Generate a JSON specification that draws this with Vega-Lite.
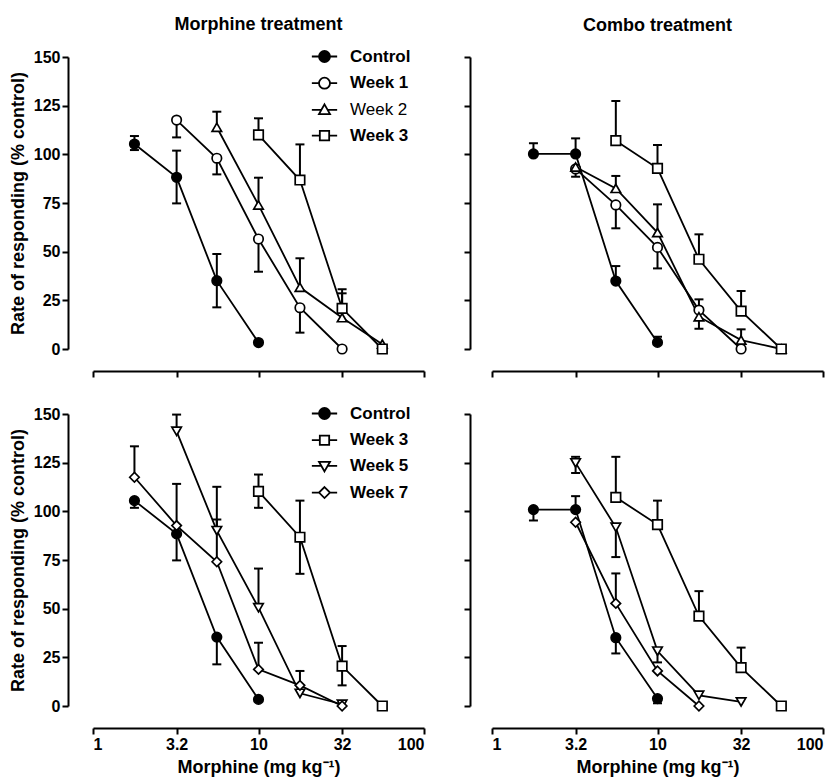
{
  "$schema": "https://vega.github.io/schema/vega-lite/v6.json",
  "padding": {"left": 9, "top": 16, "right": 5, "bottom": 2},
  "config": {
    "font": "Liberation Sans",
    "view": {"stroke": null},
    "axis": {
      "domainColor": "black", "domainWidth": 2, "tickColor": "black", "tickWidth": 2, "tickSize": 6,
      "labelColor": "black", "labelFont": "Liberation Sans", "labelFontSize": 16, "labelFontWeight": "bold",
      "titleFont": "Liberation Sans", "titleFontSize": 18, "titleFontWeight": "bold", "titleColor": "black",
      "grid": false, "labelPadding": 2
    },
    "legend": {"symbolOpacity": 1},
    "title": {"font": "Liberation Sans", "fontSize": 18, "fontWeight": "bold", "color": "black", "anchor": "middle", "frame": "group"}
  },
  "datasets": {
    "pts": [
      {"panel": "TL", "series": "Control", "dose": 1.78, "resp": 105.3},
      {"panel": "TL", "series": "Control", "dose": 3.2, "resp": 88.2},
      {"panel": "TL", "series": "Control", "dose": 5.6, "resp": 35.1},
      {"panel": "TL", "series": "Control", "dose": 10, "resp": 3.3},
      {"panel": "TL", "series": "Week 1", "dose": 3.2, "resp": 117.6},
      {"panel": "TL", "series": "Week 1", "dose": 5.6, "resp": 98},
      {"panel": "TL", "series": "Week 1", "dose": 10, "resp": 56.5},
      {"panel": "TL", "series": "Week 1", "dose": 17.8, "resp": 21.2},
      {"panel": "TL", "series": "Week 1", "dose": 32, "resp": 0},
      {"panel": "TL", "series": "Week 2", "dose": 5.6, "resp": 113.9},
      {"panel": "TL", "series": "Week 2", "dose": 10, "resp": 74},
      {"panel": "TL", "series": "Week 2", "dose": 17.8, "resp": 31.7},
      {"panel": "TL", "series": "Week 2", "dose": 32, "resp": 16.1},
      {"panel": "TL", "series": "Week 2", "dose": 56, "resp": 2.5},
      {"panel": "TL", "series": "Week 3", "dose": 10, "resp": 110},
      {"panel": "TL", "series": "Week 3", "dose": 17.8, "resp": 86.8},
      {"panel": "TL", "series": "Week 3", "dose": 32, "resp": 20.9},
      {"panel": "TL", "series": "Week 3", "dose": 56, "resp": 0},
      {"panel": "TR", "series": "Control", "dose": 1.78, "resp": 100.2},
      {"panel": "TR", "series": "Control", "dose": 3.2, "resp": 100.2},
      {"panel": "TR", "series": "Control", "dose": 5.6, "resp": 34.9},
      {"panel": "TR", "series": "Control", "dose": 10, "resp": 3.4},
      {"panel": "TR", "series": "Week 1", "dose": 3.2, "resp": 92.5},
      {"panel": "TR", "series": "Week 1", "dose": 5.6, "resp": 74},
      {"panel": "TR", "series": "Week 1", "dose": 10, "resp": 52.2},
      {"panel": "TR", "series": "Week 1", "dose": 17.8, "resp": 20},
      {"panel": "TR", "series": "Week 1", "dose": 32, "resp": 0},
      {"panel": "TR", "series": "Week 2", "dose": 3.2, "resp": 93.5},
      {"panel": "TR", "series": "Week 2", "dose": 5.6, "resp": 82.5},
      {"panel": "TR", "series": "Week 2", "dose": 10, "resp": 59.8},
      {"panel": "TR", "series": "Week 2", "dose": 17.8, "resp": 16.6},
      {"panel": "TR", "series": "Week 2", "dose": 32, "resp": 4.6},
      {"panel": "TR", "series": "Week 2", "dose": 56, "resp": 0},
      {"panel": "TR", "series": "Week 3", "dose": 5.6, "resp": 107},
      {"panel": "TR", "series": "Week 3", "dose": 10, "resp": 92.8},
      {"panel": "TR", "series": "Week 3", "dose": 17.8, "resp": 46.1},
      {"panel": "TR", "series": "Week 3", "dose": 32, "resp": 19.5},
      {"panel": "TR", "series": "Week 3", "dose": 56, "resp": 0},
      {"panel": "BL", "series": "Control", "dose": 1.78, "resp": 105.5},
      {"panel": "BL", "series": "Control", "dose": 3.2, "resp": 88.4},
      {"panel": "BL", "series": "Control", "dose": 5.6, "resp": 35.4},
      {"panel": "BL", "series": "Control", "dose": 10, "resp": 3.4},
      {"panel": "BL", "series": "Week 3", "dose": 10, "resp": 110.3},
      {"panel": "BL", "series": "Week 3", "dose": 17.8, "resp": 86.7},
      {"panel": "BL", "series": "Week 3", "dose": 32, "resp": 20.5},
      {"panel": "BL", "series": "Week 3", "dose": 56, "resp": 0},
      {"panel": "BL", "series": "Week 5", "dose": 3.2, "resp": 141.1},
      {"panel": "BL", "series": "Week 5", "dose": 5.6, "resp": 90.1},
      {"panel": "BL", "series": "Week 5", "dose": 10, "resp": 50.5},
      {"panel": "BL", "series": "Week 5", "dose": 17.8, "resp": 6.5},
      {"panel": "BL", "series": "Week 5", "dose": 32, "resp": 0.9},
      {"panel": "BL", "series": "Week 7", "dose": 1.78, "resp": 117.5},
      {"panel": "BL", "series": "Week 7", "dose": 3.2, "resp": 92.7},
      {"panel": "BL", "series": "Week 7", "dose": 5.6, "resp": 74.1},
      {"panel": "BL", "series": "Week 7", "dose": 10, "resp": 18.8},
      {"panel": "BL", "series": "Week 7", "dose": 17.8, "resp": 10.6},
      {"panel": "BL", "series": "Week 7", "dose": 32, "resp": 0},
      {"panel": "BR", "series": "Control", "dose": 1.78, "resp": 100.9},
      {"panel": "BR", "series": "Control", "dose": 3.2, "resp": 100.9},
      {"panel": "BR", "series": "Control", "dose": 5.6, "resp": 35.1},
      {"panel": "BR", "series": "Control", "dose": 10, "resp": 3.8},
      {"panel": "BR", "series": "Week 3", "dose": 5.6, "resp": 107.2},
      {"panel": "BR", "series": "Week 3", "dose": 10, "resp": 93.2},
      {"panel": "BR", "series": "Week 3", "dose": 17.8, "resp": 46.2},
      {"panel": "BR", "series": "Week 3", "dose": 32, "resp": 19.7},
      {"panel": "BR", "series": "Week 3", "dose": 56, "resp": 0},
      {"panel": "BR", "series": "Week 5", "dose": 3.2, "resp": 124.9},
      {"panel": "BR", "series": "Week 5", "dose": 5.6, "resp": 91.8},
      {"panel": "BR", "series": "Week 5", "dose": 10, "resp": 28.2},
      {"panel": "BR", "series": "Week 5", "dose": 17.8, "resp": 5.5},
      {"panel": "BR", "series": "Week 5", "dose": 32, "resp": 2.1},
      {"panel": "BR", "series": "Week 7", "dose": 3.2, "resp": 94.4},
      {"panel": "BR", "series": "Week 7", "dose": 5.6, "resp": 52.7},
      {"panel": "BR", "series": "Week 7", "dose": 10, "resp": 18},
      {"panel": "BR", "series": "Week 7", "dose": 17.8, "resp": 0}
    ],
    "err": [
      {"panel": "TL", "series": "Control", "dose": 1.78, "resp": 105.3, "end": 109.4},
      {"panel": "TL", "series": "Control", "dose": 1.78, "resp": 105.3, "end": 102.2},
      {"panel": "TL", "series": "Control", "dose": 3.2, "resp": 88.2, "end": 101.9},
      {"panel": "TL", "series": "Control", "dose": 3.2, "resp": 88.2, "end": 74.8},
      {"panel": "TL", "series": "Control", "dose": 5.6, "resp": 35.1, "end": 48.8},
      {"panel": "TL", "series": "Control", "dose": 5.6, "resp": 35.1, "end": 21.4},
      {"panel": "TL", "series": "Week 1", "dose": 3.2, "resp": 117.6, "end": 108.7},
      {"panel": "TL", "series": "Week 1", "dose": 5.6, "resp": 98, "end": 89.7},
      {"panel": "TL", "series": "Week 1", "dose": 10, "resp": 56.5, "end": 39.7},
      {"panel": "TL", "series": "Week 1", "dose": 17.8, "resp": 21.2, "end": 8.4},
      {"panel": "TL", "series": "Week 2", "dose": 5.6, "resp": 113.9, "end": 121.9},
      {"panel": "TL", "series": "Week 2", "dose": 10, "resp": 74, "end": 88},
      {"panel": "TL", "series": "Week 2", "dose": 17.8, "resp": 31.7, "end": 46.6},
      {"panel": "TL", "series": "Week 2", "dose": 32, "resp": 16.1, "end": 28.6},
      {"panel": "TL", "series": "Week 3", "dose": 10, "resp": 110, "end": 118.5},
      {"panel": "TL", "series": "Week 3", "dose": 17.8, "resp": 86.8, "end": 105.1},
      {"panel": "TL", "series": "Week 3", "dose": 32, "resp": 20.9, "end": 30.7},
      {"panel": "TR", "series": "Control", "dose": 1.78, "resp": 100.2, "end": 105.7},
      {"panel": "TR", "series": "Control", "dose": 3.2, "resp": 100.2, "end": 108.2},
      {"panel": "TR", "series": "Week 1", "dose": 3.2, "resp": 92.5, "end": 88.5},
      {"panel": "TR", "series": "Week 3", "dose": 5.6, "resp": 107, "end": 127.4},
      {"panel": "TR", "series": "Week 2", "dose": 5.6, "resp": 82.5, "end": 88.9},
      {"panel": "TR", "series": "Week 1", "dose": 5.6, "resp": 74, "end": 62},
      {"panel": "TR", "series": "Control", "dose": 5.6, "resp": 34.9, "end": 42.6},
      {"panel": "TR", "series": "Week 3", "dose": 10, "resp": 92.8, "end": 104.8},
      {"panel": "TR", "series": "Week 2", "dose": 10, "resp": 59.8, "end": 74.3},
      {"panel": "TR", "series": "Week 1", "dose": 10, "resp": 52.2, "end": 41.4},
      {"panel": "TR", "series": "Control", "dose": 10, "resp": 3.4, "end": 6.3},
      {"panel": "TR", "series": "Week 3", "dose": 17.8, "resp": 46.1, "end": 58.9},
      {"panel": "TR", "series": "Week 1", "dose": 17.8, "resp": 20, "end": 25.5},
      {"panel": "TR", "series": "Week 2", "dose": 17.8, "resp": 16.6, "end": 10.4},
      {"panel": "TR", "series": "Week 3", "dose": 32, "resp": 19.5, "end": 29.8},
      {"panel": "TR", "series": "Week 2", "dose": 32, "resp": 4.6, "end": 10.1},
      {"panel": "BL", "series": "Control", "dose": 1.78, "resp": 105.5, "end": 101.8},
      {"panel": "BL", "series": "Control", "dose": 3.2, "resp": 88.4, "end": 74.8},
      {"panel": "BL", "series": "Control", "dose": 5.6, "resp": 35.4, "end": 21.4},
      {"panel": "BL", "series": "Week 7", "dose": 1.78, "resp": 117.5, "end": 133.4},
      {"panel": "BL", "series": "Week 5", "dose": 3.2, "resp": 141.1, "end": 149.7},
      {"panel": "BL", "series": "Week 7", "dose": 3.2, "resp": 92.7, "end": 114.1},
      {"panel": "BL", "series": "Week 5", "dose": 5.6, "resp": 90.1, "end": 112.6},
      {"panel": "BL", "series": "Week 7", "dose": 5.6, "resp": 74.1, "end": 95.8},
      {"panel": "BL", "series": "Week 5", "dose": 10, "resp": 50.5, "end": 70.6},
      {"panel": "BL", "series": "Week 7", "dose": 10, "resp": 18.8, "end": 32.5},
      {"panel": "BL", "series": "Week 3", "dose": 10, "resp": 110.3, "end": 118.9},
      {"panel": "BL", "series": "Week 3", "dose": 10, "resp": 110.3, "end": 101.8},
      {"panel": "BL", "series": "Week 3", "dose": 17.8, "resp": 86.7, "end": 105.5},
      {"panel": "BL", "series": "Week 3", "dose": 17.8, "resp": 86.7, "end": 67.9},
      {"panel": "BL", "series": "Week 7", "dose": 17.8, "resp": 10.6, "end": 18},
      {"panel": "BL", "series": "Week 3", "dose": 32, "resp": 20.5, "end": 30.8},
      {"panel": "BL", "series": "Week 3", "dose": 32, "resp": 20.5, "end": 10.6},
      {"panel": "BR", "series": "Control", "dose": 1.78, "resp": 100.9, "end": 95.3},
      {"panel": "BR", "series": "Control", "dose": 3.2, "resp": 100.9, "end": 107.8},
      {"panel": "BR", "series": "Week 5", "dose": 3.2, "resp": 124.9, "end": 128},
      {"panel": "BR", "series": "Week 5", "dose": 3.2, "resp": 124.9, "end": 119.7},
      {"panel": "BR", "series": "Week 3", "dose": 5.6, "resp": 107.2, "end": 128},
      {"panel": "BR", "series": "Week 5", "dose": 5.6, "resp": 91.8, "end": 76.5},
      {"panel": "BR", "series": "Week 7", "dose": 5.6, "resp": 52.7, "end": 68.1},
      {"panel": "BR", "series": "Control", "dose": 5.6, "resp": 35.1, "end": 27},
      {"panel": "BR", "series": "Week 3", "dose": 10, "resp": 93.2, "end": 105.5},
      {"panel": "BR", "series": "Week 5", "dose": 10, "resp": 28.2, "end": 22.4},
      {"panel": "BR", "series": "Control", "dose": 10, "resp": 3.8, "end": 1.4},
      {"panel": "BR", "series": "Week 3", "dose": 17.8, "resp": 46.2, "end": 59},
      {"panel": "BR", "series": "Week 3", "dose": 32, "resp": 19.7, "end": 30}
    ]
  },
  "columns": 2,
  "bounds": "flush",
  "spacing": {"row": 65, "column": 68},
  "resolve": {"scale": {"shape": "independent", "fill": "independent"}, "legend": {"shape": "independent", "fill": "independent"}},
  "concat": [
    {
      "width": 331, "height": 292,
      "title": {"text": "Morphine treatment", "offset": 14},
      "resolve": {"scale": {"shape": "independent", "fill": "independent"}, "legend": {"shape": "independent", "fill": "independent"}},
      "encoding": {
        "x": {"field": "dose", "type": "quantitative", "scale": {"type": "log", "domain": [1, 100]},
              "axis": {"values": [1, 3.2, 10, 32, 100], "labels": false, "title": null, "offset": 22}},
        "y": {"field": "resp", "type": "quantitative", "scale": {"domain": [0, 150]},
              "axis": {"values": [0, 25, 50, 75, 100, 125, 150], "title": "Rate of responding (% control)", "offset": 25, "titlePadding": 6}}
      },
      "layer": [
        {"data": {"values": [{}]}, "mark": {"type": "rule", "strokeDash": [8, 5], "strokeWidth": 2, "color": "black"},
         "encoding": {"x": {"datum": 0.705}, "x2": {"datum": 100}, "y": {"datum": 100}}},
        {"data": {"name": "err"}, "transform": [{"filter": "datum.panel === 'TL'"}], "mark": {"type": "rule", "strokeWidth": 2, "color": "black"},
         "encoding": {"y2": {"field": "end"}}},
        {"data": {"name": "err"}, "transform": [{"filter": "datum.panel === 'TL'"}], "mark": {"type": "tick", "orient": "horizontal", "size": 9, "thickness": 2, "color": "black", "opacity": 1},
         "encoding": {"y": {"field": "end", "type": "quantitative"}}},
        {"data": {"name": "pts"}, "transform": [{"filter": "datum.panel === 'TL'"}], "mark": {"type": "line", "strokeWidth": 1.8, "color": "black"},
         "encoding": {"detail": {"field": "series"}}},
        {"data": {"name": "pts"}, "transform": [{"filter": "datum.panel === 'TL'"}], "mark": {"type": "point", "filled": true, "size": 90, "stroke": "black", "strokeWidth": 1.7, "opacity": 1},
         "encoding": {
           "fill": {"condition": {"test": "datum.series === 'Control'", "value": "black"}, "value": "white"},
           "shape": {"field": "series", "type": "nominal",
             "scale": {"domain": ["Control", "Week 1", "Week 2", "Week 3"], "range": ["circle", "circle", "triangle-up", "square"]},
             "legend": null}
         }},
        {"data": {"name": "pts"}, "transform": [{"filter": "datum.panel === 'TL'"}], "mark": {"type": "point", "filled": true, "size": 121, "stroke": "black", "strokeWidth": 1.8, "opacity": 0},
         "encoding": {
           "fill": {"field": "series", "type": "nominal",
             "scale": {"domain": ["Control", "Week 1", "Week 2", "Week 3"], "range": ["black", "white", "white", "white"]},
             "legend": {"title": null, "orient": "none", "legendX": 223, "legendY": -9, "symbolSize": 121, "symbolOpacity": 1, "symbolStrokeWidth": 1.8, "labelFont": "Liberation Sans", "labelFontSize": 17, "labelFontWeight": {"expr": "datum.value === 'Week 2' ? 'normal' : 'bold'"}, "labelColor": "black", "labelOffset": 17, "rowPadding": 7.7}},
           "shape": {"field": "series", "type": "nominal",
             "scale": {"domain": ["Control", "Week 1", "Week 2", "Week 3"], "range": [
               "M-2.3,0H-1M1,0H2.3M1,0A1,1,0,1,1,-1,0A1,1,0,1,1,1,0Z",
               "M-2.3,0H-1M1,0H2.3M1,0A1,1,0,1,1,-1,0A1,1,0,1,1,1,0Z",
               "M-2.3,0H-0.57M0.57,0H2.3M0,-1L1,0.75H-1Z",
               "M-2.3,0H-0.85M0.85,0H2.3M-0.85,-0.85H0.85V0.85H-0.85Z"]},
             "legend": {"title": null, "orient": "none", "legendX": 223, "legendY": -9, "symbolSize": 121, "symbolOpacity": 1, "symbolStrokeWidth": 1.8, "labelFont": "Liberation Sans", "labelFontSize": 17, "labelFontWeight": {"expr": "datum.value === 'Week 2' ? 'normal' : 'bold'"}, "labelColor": "black", "labelOffset": 17, "rowPadding": 7.7}}
         }},
        {"data": {"values": [{}]}, "mark": {"type": "text", "align": "left", "baseline": "middle", "fontSize": 18, "color": "black", "font": "Liberation Sans"},
         "encoding": {"x": {"datum": 0.882}, "y": {"datum": 156}, "text": {"value": "During treatment"}}}
      ]
    },
    {
      "width": 331, "height": 292,
      "title": {"text": "Combo treatment", "offset": 21},
      "encoding": {
        "x": {"field": "dose", "type": "quantitative", "scale": {"type": "log", "domain": [1, 100]},
              "axis": {"values": [1, 3.2, 10, 32, 100], "labels": false, "title": null, "offset": 22}},
        "y": {"field": "resp", "type": "quantitative", "scale": {"domain": [0, 150]},
              "axis": {"values": [0, 25, 50, 75, 100, 125, 150], "labels": false, "title": null, "offset": 22}}
      },
      "layer": [
        {"data": {"values": [{}]}, "mark": {"type": "rule", "strokeDash": [8, 5], "strokeWidth": 2, "color": "black"},
         "encoding": {"x": {"datum": 0.736}, "x2": {"datum": 100}, "y": {"datum": 100}}},
        {"data": {"name": "err"}, "transform": [{"filter": "datum.panel === 'TR'"}], "mark": {"type": "rule", "strokeWidth": 2, "color": "black"},
         "encoding": {"y2": {"field": "end"}}},
        {"data": {"name": "err"}, "transform": [{"filter": "datum.panel === 'TR'"}], "mark": {"type": "tick", "orient": "horizontal", "size": 9, "thickness": 2, "color": "black", "opacity": 1},
         "encoding": {"y": {"field": "end", "type": "quantitative"}}},
        {"data": {"name": "pts"}, "transform": [{"filter": "datum.panel === 'TR'"}], "mark": {"type": "line", "strokeWidth": 1.8, "color": "black"},
         "encoding": {"detail": {"field": "series"}}},
        {"data": {"name": "pts"}, "transform": [{"filter": "datum.panel === 'TR'"}], "mark": {"type": "point", "filled": true, "size": 90, "stroke": "black", "strokeWidth": 1.7, "opacity": 1},
         "encoding": {
           "fill": {"condition": {"test": "datum.series === 'Control'", "value": "black"}, "value": "white"},
           "shape": {"field": "series", "type": "nominal",
             "scale": {"domain": ["Control", "Week 1", "Week 2", "Week 3"], "range": ["circle", "circle", "triangle-up", "square"]},
             "legend": null}
         }}
      ]
    },
    {
      "width": 331, "height": 292,
      "resolve": {"scale": {"shape": "independent", "fill": "independent"}, "legend": {"shape": "independent", "fill": "independent"}},
      "encoding": {
        "x": {"field": "dose", "type": "quantitative", "scale": {"type": "log", "domain": [1, 100]},
              "axis": {"values": [1, 3.2, 10, 32, 100], "format": "~g", "title": "Morphine (mg kg⁻¹)", "offset": 22, "titlePadding": 6}},
        "y": {"field": "resp", "type": "quantitative", "scale": {"domain": [0, 150]},
              "axis": {"values": [0, 25, 50, 75, 100, 125, 150], "title": "Rate of responding (% control)", "offset": 25, "titlePadding": 6}}
      },
      "layer": [
        {"data": {"values": [{}]}, "mark": {"type": "rule", "strokeDash": [8, 5], "strokeWidth": 2, "color": "black"},
         "encoding": {"x": {"datum": 0.705}, "x2": {"datum": 100}, "y": {"datum": 100}}},
        {"data": {"name": "err"}, "transform": [{"filter": "datum.panel === 'BL'"}], "mark": {"type": "rule", "strokeWidth": 2, "color": "black"},
         "encoding": {"y2": {"field": "end"}}},
        {"data": {"name": "err"}, "transform": [{"filter": "datum.panel === 'BL'"}], "mark": {"type": "tick", "orient": "horizontal", "size": 9, "thickness": 2, "color": "black", "opacity": 1},
         "encoding": {"y": {"field": "end", "type": "quantitative"}}},
        {"data": {"name": "pts"}, "transform": [{"filter": "datum.panel === 'BL'"}], "mark": {"type": "line", "strokeWidth": 1.8, "color": "black"},
         "encoding": {"detail": {"field": "series"}}},
        {"data": {"name": "pts"}, "transform": [{"filter": "datum.panel === 'BL'"}], "mark": {"type": "point", "filled": true, "size": 90, "stroke": "black", "strokeWidth": 1.7, "opacity": 1},
         "encoding": {
           "fill": {"condition": {"test": "datum.series === 'Control'", "value": "black"}, "value": "white"},
           "shape": {"field": "series", "type": "nominal",
             "scale": {"domain": ["Control", "Week 3", "Week 5", "Week 7"], "range": ["circle", "square", "triangle-down", "diamond"]},
             "legend": null}
         }},
        {"data": {"name": "pts"}, "transform": [{"filter": "datum.panel === 'BL'"}], "mark": {"type": "point", "filled": true, "size": 121, "stroke": "black", "strokeWidth": 1.8, "opacity": 0},
         "encoding": {
           "fill": {"field": "series", "type": "nominal",
             "scale": {"domain": ["Control", "Week 3", "Week 5", "Week 7"], "range": ["black", "white", "white", "white"]},
             "legend": {"title": null, "orient": "none", "legendX": 223, "legendY": -9, "symbolSize": 121, "symbolOpacity": 1, "symbolStrokeWidth": 1.8, "labelFont": "Liberation Sans", "labelFontSize": 17, "labelFontWeight": "bold", "labelColor": "black", "labelOffset": 17, "rowPadding": 7.7}},
           "shape": {"field": "series", "type": "nominal",
             "scale": {"domain": ["Control", "Week 3", "Week 5", "Week 7"], "range": [
               "M-2.3,0H-1M1,0H2.3M1,0A1,1,0,1,1,-1,0A1,1,0,1,1,1,0Z",
               "M-2.3,0H-0.85M0.85,0H2.3M-0.85,-0.85H0.85V0.85H-0.85Z",
               "M-2.3,0H-0.57M0.57,0H2.3M0,1L1,-0.75H-1Z",
               "M-2.3,0H-1M1,0H2.3M0,-1L1,0L0,1L-1,0Z"]},
             "legend": {"title": null, "orient": "none", "legendX": 223, "legendY": -9, "symbolSize": 121, "symbolOpacity": 1, "symbolStrokeWidth": 1.8, "labelFont": "Liberation Sans", "labelFontSize": 17, "labelFontWeight": "bold", "labelColor": "black", "labelOffset": 17, "rowPadding": 7.7}}
         }},
        {"data": {"values": [{}]}, "mark": {"type": "text", "align": "left", "baseline": "middle", "fontSize": 18, "color": "black", "font": "Liberation Sans"},
         "encoding": {"x": {"datum": 0.882}, "y": {"datum": 156}, "text": {"value": "Treatment discontinued"}}}
      ]
    },
    {
      "width": 331, "height": 292,
      "encoding": {
        "x": {"field": "dose", "type": "quantitative", "scale": {"type": "log", "domain": [1, 100]},
              "axis": {"values": [1, 3.2, 10, 32, 100], "format": "~g", "title": "Morphine (mg kg⁻¹)", "offset": 22, "titlePadding": 6}},
        "y": {"field": "resp", "type": "quantitative", "scale": {"domain": [0, 150]},
              "axis": {"values": [0, 25, 50, 75, 100, 125, 150], "labels": false, "title": null, "offset": 22}}
      },
      "layer": [
        {"data": {"values": [{}]}, "mark": {"type": "rule", "strokeDash": [8, 5], "strokeWidth": 2, "color": "black"},
         "encoding": {"x": {"datum": 0.736}, "x2": {"datum": 100}, "y": {"datum": 100}}},
        {"data": {"name": "err"}, "transform": [{"filter": "datum.panel === 'BR'"}], "mark": {"type": "rule", "strokeWidth": 2, "color": "black"},
         "encoding": {"y2": {"field": "end"}}},
        {"data": {"name": "err"}, "transform": [{"filter": "datum.panel === 'BR'"}], "mark": {"type": "tick", "orient": "horizontal", "size": 9, "thickness": 2, "color": "black", "opacity": 1},
         "encoding": {"y": {"field": "end", "type": "quantitative"}}},
        {"data": {"name": "pts"}, "transform": [{"filter": "datum.panel === 'BR'"}], "mark": {"type": "line", "strokeWidth": 1.8, "color": "black"},
         "encoding": {"detail": {"field": "series"}}},
        {"data": {"name": "pts"}, "transform": [{"filter": "datum.panel === 'BR'"}], "mark": {"type": "point", "filled": true, "size": 90, "stroke": "black", "strokeWidth": 1.7, "opacity": 1},
         "encoding": {
           "fill": {"condition": {"test": "datum.series === 'Control'", "value": "black"}, "value": "white"},
           "shape": {"field": "series", "type": "nominal",
             "scale": {"domain": ["Control", "Week 3", "Week 5", "Week 7"], "range": ["circle", "square", "triangle-down", "diamond"]},
             "legend": null}
         }}
      ]
    }
  ]
}
